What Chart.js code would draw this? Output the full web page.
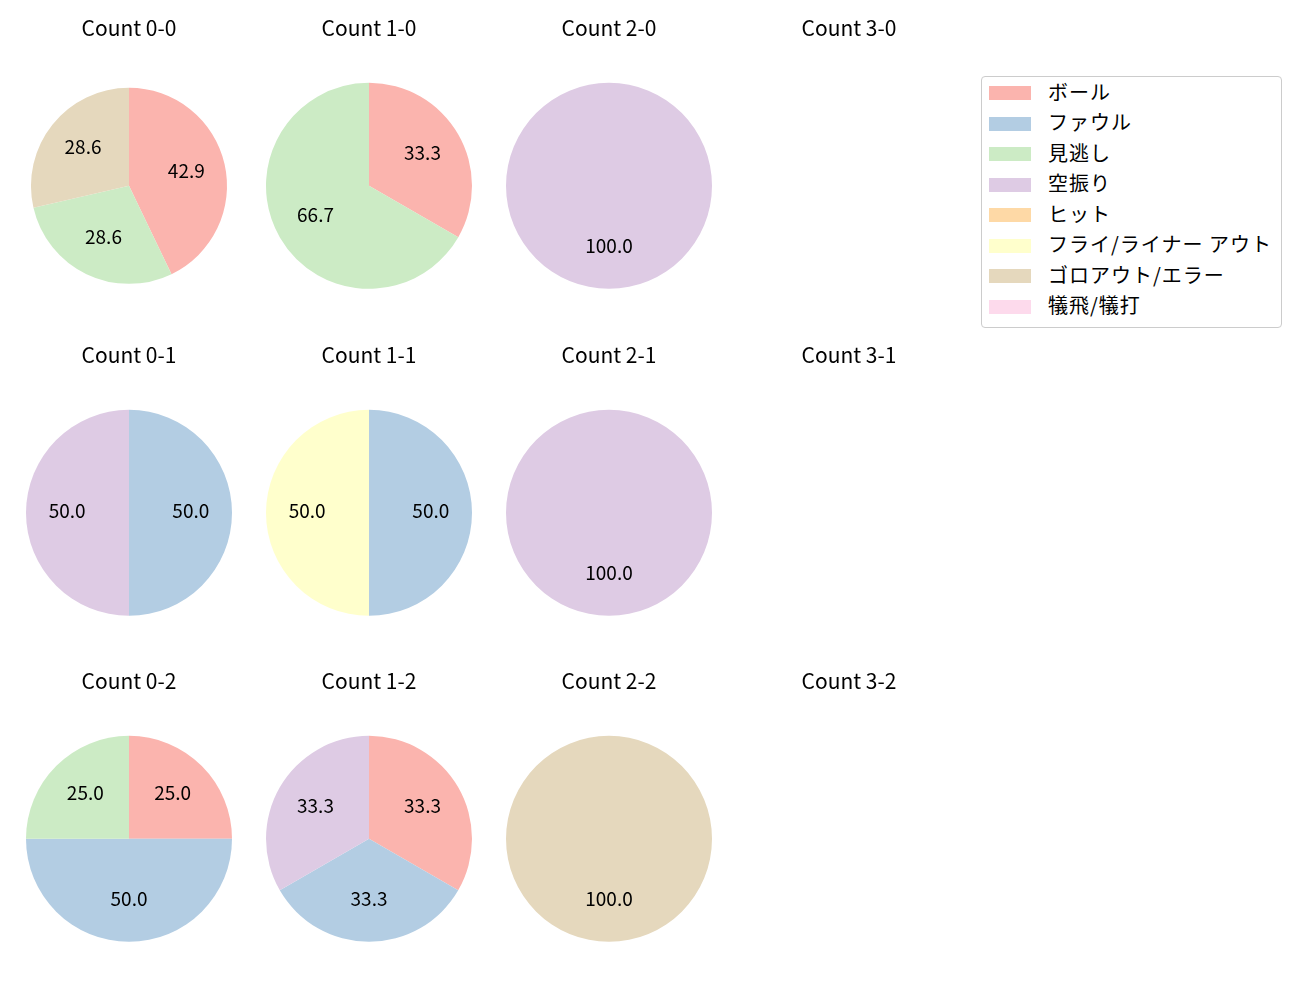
<!DOCTYPE html>
<html lang="ja">
<head>
  <meta charset="UTF-8">
  <title>Count pies</title>
  <script src="https://cdn.jsdelivr.net/npm/chart.js"></script>
  <style>
    body {
      margin: 0;
      background: #fff;
      font-family: "Noto Sans CJK JP", "Noto Sans", sans-serif;
    }
    #page {
      position: relative;
      width: 1300px;
      height: 1000px;
    }
    .cell {
      position: absolute;
      width: 240px;
      height: 320px;
    }
    /* legend box, matplotlib style */
    #legend {
      position: absolute;
      left: 981px;
      top: 76px;
      width: 299px;
      height: 250px;
      border: 1px solid #cccccc;
      border-radius: 4px;
      background: rgba(255, 255, 255, 0.8);
    }
    .legend-row {
      position: absolute;
      left: 0;
      height: 30px;
      display: flex;
      align-items: center;
      white-space: nowrap;
    }
    .legend-row .swatch {
      width: 42px;
      height: 14px;
      margin-left: 7px;
    }
    .legend-row span {
      margin-left: 17px;
      font-size: 20px;
      letter-spacing: 1px;
      color: #000;
      position: relative;
      top: -2px;
    }
  </style>
</head>
<body>
<div id="page">
  <div id="legend"></div>
</div>

<script>
  // categories and colours (Pastel1)
  const categories = ['ボール', 'ファウル', '見逃し', '空振り', 'ヒット', 'フライ/ライナー アウト', 'ゴロアウト/エラー', '犠飛/犠打'];
  const colors = ['#fbb4ae', '#b3cde3', '#ccebc5', '#decbe4', '#fed9a6', '#ffffcc', '#e5d8bd', '#fddaec'];

  // percentages per count, in category order
  const count00 = [42.9, 0, 28.6, 0, 0, 0, 28.6, 0];
  const count10 = [33.3, 0, 66.7, 0, 0, 0, 0, 0];
  const count20 = [0, 0, 0, 100, 0, 0, 0, 0];
  const count30 = [];
  const count01 = [0, 50, 0, 50, 0, 0, 0, 0];
  const count11 = [0, 50, 0, 0, 0, 50, 0, 0];
  const count21 = [0, 0, 0, 100, 0, 0, 0, 0];
  const count31 = [];
  const count02 = [25, 50, 25, 0, 0, 0, 0, 0];
  const count12 = [33.3, 33.3, 0, 33.3, 0, 0, 0, 0];
  const count22 = [0, 0, 0, 0, 0, 0, 100, 0];
  const count32 = [];

  const countNames = ['0-0', '1-0', '2-0', '3-0', '0-1', '1-1', '2-1', '3-1', '0-2', '1-2', '2-2', '3-2'];
  const countData = [count00, count10, count20, count30, count01, count11, count21, count31, count02, count12, count22, count32];

  const FONT = '"Noto Sans CJK JP", "Noto Sans", sans-serif';

  // draws the percentage in the middle of each slice, at 0.6 of the radius
  const sliceLabels = {
    id: 'sliceLabels',
    afterDatasetsDraw(chart) {
      if (!chart.data.datasets.length) return;
      const meta = chart.getDatasetMeta(0);
      const values = chart.data.datasets[0].data;
      const ctx = chart.ctx;
      ctx.save();
      ctx.font = '19px ' + FONT;
      ctx.fillStyle = '#000';
      ctx.textAlign = 'center';
      ctx.textBaseline = 'middle';
      meta.data.forEach((arc, i) => {
        if (!values[i]) return;
        const p = arc.getProps(['x', 'y', 'startAngle', 'endAngle', 'outerRadius'], true);
        const mid = (p.startAngle + p.endAngle) / 2;
        const r = p.outerRadius * 0.6;
        // -2: Noto's middle baseline sits a bit low
        ctx.fillText(values[i].toFixed(1), p.x + Math.cos(mid) * r, p.y + Math.sin(mid) * r - 2);
      });
      ctx.restore();
    }
  };

  const page = document.getElementById('page');

  countNames.forEach((name, idx) => {
    const col = idx % 4;
    const row = Math.floor(idx / 4);
    const cell = document.createElement('div');
    cell.className = 'cell';
    cell.style.left = (9 + col * 240) + 'px';
    cell.style.top = (row * 326.5) + 'px';
    const canvas = document.createElement('canvas');
    canvas.width = 240;
    canvas.height = 320;
    cell.appendChild(canvas);
    page.appendChild(cell);

    const values = countData[idx];
    new Chart(canvas, {
      type: 'pie',
      data: {
        labels: categories,
        datasets: values.length ? [{
          data: values,
          backgroundColor: colors,
          borderWidth: 0
        }] : []
      },
      options: {
        responsive: false,
        animation: false,
        radius: idx === 0 ? 98 : 103,
        layout: { padding: 0 },
        plugins: {
          legend: { display: false },
          tooltip: { enabled: false },
          title: {
            display: true,
            text: 'Count ' + name,
            color: '#000',
            font: { family: FONT, size: 21, weight: 'normal' },
            padding: { top: 15.5, bottom: 11 }
          }
        }
      },
      plugins: [sliceLabels]
    });
  });

  // legend
  const legend = document.getElementById('legend');
  categories.forEach((cat, i) => {
    const rowDiv = document.createElement('div');
    rowDiv.className = 'legend-row';
    rowDiv.style.top = (1 + i * 30.57) + 'px';
    const sw = document.createElement('div');
    sw.className = 'swatch';
    sw.style.background = colors[i];
    const label = document.createElement('span');
    label.textContent = cat;
    rowDiv.appendChild(sw);
    rowDiv.appendChild(label);
    legend.appendChild(rowDiv);
  });
</script>
</body>
</html>
